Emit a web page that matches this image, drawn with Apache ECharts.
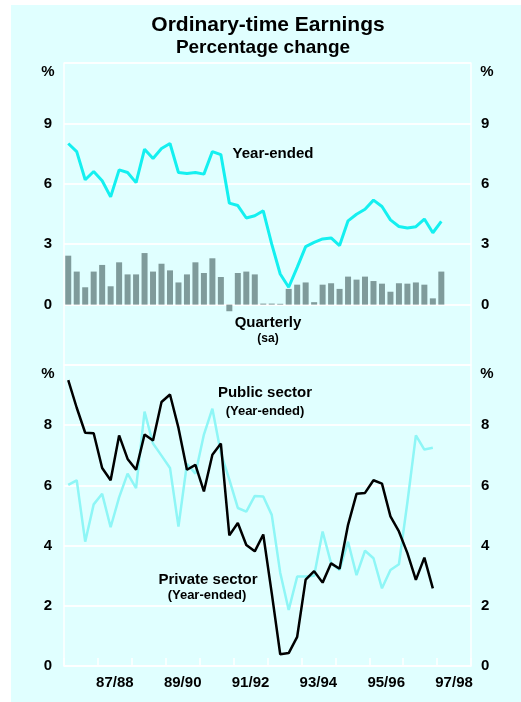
<!DOCTYPE html>
<html>
<head>
<meta charset="utf-8">
<script src="https://cdn.jsdelivr.net/npm/echarts@6/dist/echarts.min.js"></script>
<style>
  html, body { margin: 0; padding: 0; background: #ffffff; }
  #chart { width: 521px; height: 702px; }
</style>
</head>
<body>
<div id="chart"></div>
<script>
// Financial years shown along the bottom axis (each split into four quarters)
const fiscalYears = ['86/87', '87/88', '88/89', '89/90', '90/91', '91/92',
                     '92/93', '93/94', '94/95', '95/96', '96/97', '97/98'];
const quarterNames = ['Sep', 'Dec', 'Mar', 'Jun'];

// Ordinary-time earnings, percentage change (from Sep qtr 1986)
const quarterlyChange = [
  2.43, 1.64, 0.86, 1.64, 1.97, 0.91, 2.10, 1.50, 1.50, 2.56, 1.64, 2.03,
  1.70, 1.10, 1.50, 2.10, 1.57, 2.30, 1.37, -0.33, 1.57, 1.64, 1.50, 0.05,
  0.05, 0.04, 0.78, 0.99, 1.10, 0.12, 0.99, 1.06, 0.78, 1.39, 1.24, 1.39,
  1.17, 1.04, 0.64, 1.06, 1.04, 1.10, 0.99, 0.31, 1.64
];
const yearEnded = [
  8.00, 7.60, 6.20, 6.61, 6.15, 5.35, 6.69, 6.56, 6.06, 7.72, 7.26, 7.75,
  8.00, 6.56, 6.51, 6.56, 6.48, 7.60, 7.45, 5.04, 4.92, 4.30, 4.41, 4.66,
  3.00, 1.52, 0.86, 1.85, 2.88, 3.09, 3.26, 3.31, 2.93, 4.16, 4.49, 4.74,
  5.19, 4.87, 4.21, 3.88, 3.80, 3.87, 4.25, 3.57, 4.13
];
const publicSector = [
  9.50, 8.58, 7.75, 7.73, 6.58, 6.17, 7.66, 6.88, 6.52, 7.69, 7.49, 8.77,
  9.02, 7.91, 6.52, 6.68, 5.80, 7.02, 7.39, 4.34, 4.75, 4.02, 3.81, 4.37,
  2.42, 0.39, 0.43, 0.97, 2.87, 3.15, 2.77, 3.41, 3.23, 4.69, 5.72, 5.75,
  6.17, 6.06, 4.97, 4.47, 3.75, 2.86, 3.60, 2.58
];
const privateSector = [
  6.02, 6.17, 4.13, 5.37, 5.72, 4.61, 5.60, 6.39, 5.91, 8.45, 7.39, 6.99,
  6.58, 4.63, 6.72, 6.39, 7.69, 8.55, 7.08, 6.19, 5.25, 5.13, 5.65, 5.63,
  5.02, 3.10, 1.86, 2.97, 2.97, 3.00, 4.47, 3.41, 3.19, 4.13, 3.02, 3.83,
  3.58, 2.58, 3.19, 3.38, 5.44, 7.66, 7.19, 7.25
];

const quarters = [];
fiscalYears.forEach(fy => quarterNames.forEach(q => quarters.push(q + ' ' + fy)));

const BG = '#E0FFFF';
const GRID_WHITE = '#FFFFFF';
const FONT = 'Liberation Sans, Arial, sans-serif';

const chart = echarts.init(document.getElementById('chart'), null, { renderer: 'canvas' });

const tickLabel = { fontFamily: FONT, fontWeight: 'bold', fontSize: 15, color: '#000' };

function valueAxis(gridIndex, position, min, max, interval, hide) {
  return {
    type: 'value', gridIndex, position, min, max, interval,
    axisLine: { show: true, lineStyle: { color: GRID_WHITE, width: 1.5 } },
    axisTick: { show: false },
    splitLine: { show: true, lineStyle: { color: GRID_WHITE, width: 1.5 } },
    axisLabel: Object.assign({
      margin: position === 'left' ? 12 : 10,
      formatter: v => (hide.includes(v) ? '' : String(v))
    }, tickLabel)
  };
}

function label(text, x, y, size) {
  return {
    type: 'text', x, y,
    style: { text, font: 'bold ' + size + 'px ' + FONT, fill: '#000', textAlign: 'center', textVerticalAlign: 'middle' }
  };
}

const option = {
  backgroundColor: '#FFFFFF',
  animation: false,
  grid: [
    { left: 64, top: 63, width: 407, height: 302 },
    { left: 64, top: 365, width: 407, height: 301 }
  ],
  xAxis: [
    { type: 'category', gridIndex: 0, data: quarters, boundaryGap: true, show: false },
    { type: 'category', gridIndex: 1, data: quarters, boundaryGap: true, show: false },
    {
      type: 'category', gridIndex: 1, data: fiscalYears, boundaryGap: true, position: 'bottom',
      axisLine: { show: true, lineStyle: { color: GRID_WHITE, width: 1.5 } },
      axisTick: { show: true, inside: true, length: 8, lineStyle: { color: GRID_WHITE, width: 1.5 } },
      splitLine: { show: false },
      axisLabel: Object.assign({
        interval: 0, margin: 9,
        formatter: (v, i) => (i % 2 === 1 ? v : '')
      }, tickLabel)
    }
  ],
  yAxis: [
    valueAxis(0, 'left', -3, 12, 3, [-3, 12]),
    valueAxis(0, 'right', -3, 12, 3, [-3, 12]),
    valueAxis(1, 'left', 0, 10, 2, [10]),
    valueAxis(1, 'right', 0, 10, 2, [10])
  ],
  series: [
    {
      name: 'Quarterly', type: 'bar', xAxisIndex: 0, yAxisIndex: 0,
      data: quarterlyChange, barWidth: 6,
      itemStyle: { color: '#7F9B9B' }, z: 3
    },
    {
      name: 'Year-ended', type: 'line', xAxisIndex: 0, yAxisIndex: 0,
      data: yearEnded, showSymbol: false,
      lineStyle: { color: '#14F0F0', width: 3 }, z: 4
    },
    {
      name: 'Private sector', type: 'line', xAxisIndex: 1, yAxisIndex: 2,
      data: privateSector, showSymbol: false,
      lineStyle: { color: '#8EF6F6', width: 2.5 }, z: 3
    },
    {
      name: 'Public sector', type: 'line', xAxisIndex: 1, yAxisIndex: 2,
      data: publicSector, showSymbol: false,
      lineStyle: { color: '#000000', width: 2.5 }, z: 4
    }
  ],
  graphic: [
    { type: 'rect', z: -100, silent: true, shape: { x: 11, y: 5, width: 510, height: 697 }, style: { fill: BG } },
    label('Ordinary-time Earnings', 268, 25, 21),
    label('Percentage change', 263, 48, 19),
    label('%', 48, 72, 15),
    label('%', 487, 72, 15),
    label('%', 48, 374, 15),
    label('%', 487, 374, 15),
    label('Year-ended', 273, 154, 15),
    label('Quarterly', 268, 323, 15),
    label('(sa)', 268, 339, 12),
    label('Public sector', 265, 393, 15),
    label('(Year-ended)', 265, 411, 13),
    label('Private sector', 208, 580, 15),
    label('(Year-ended)', 207, 595, 13)
  ]
};

chart.setOption(option);
</script>
</body>
</html>
